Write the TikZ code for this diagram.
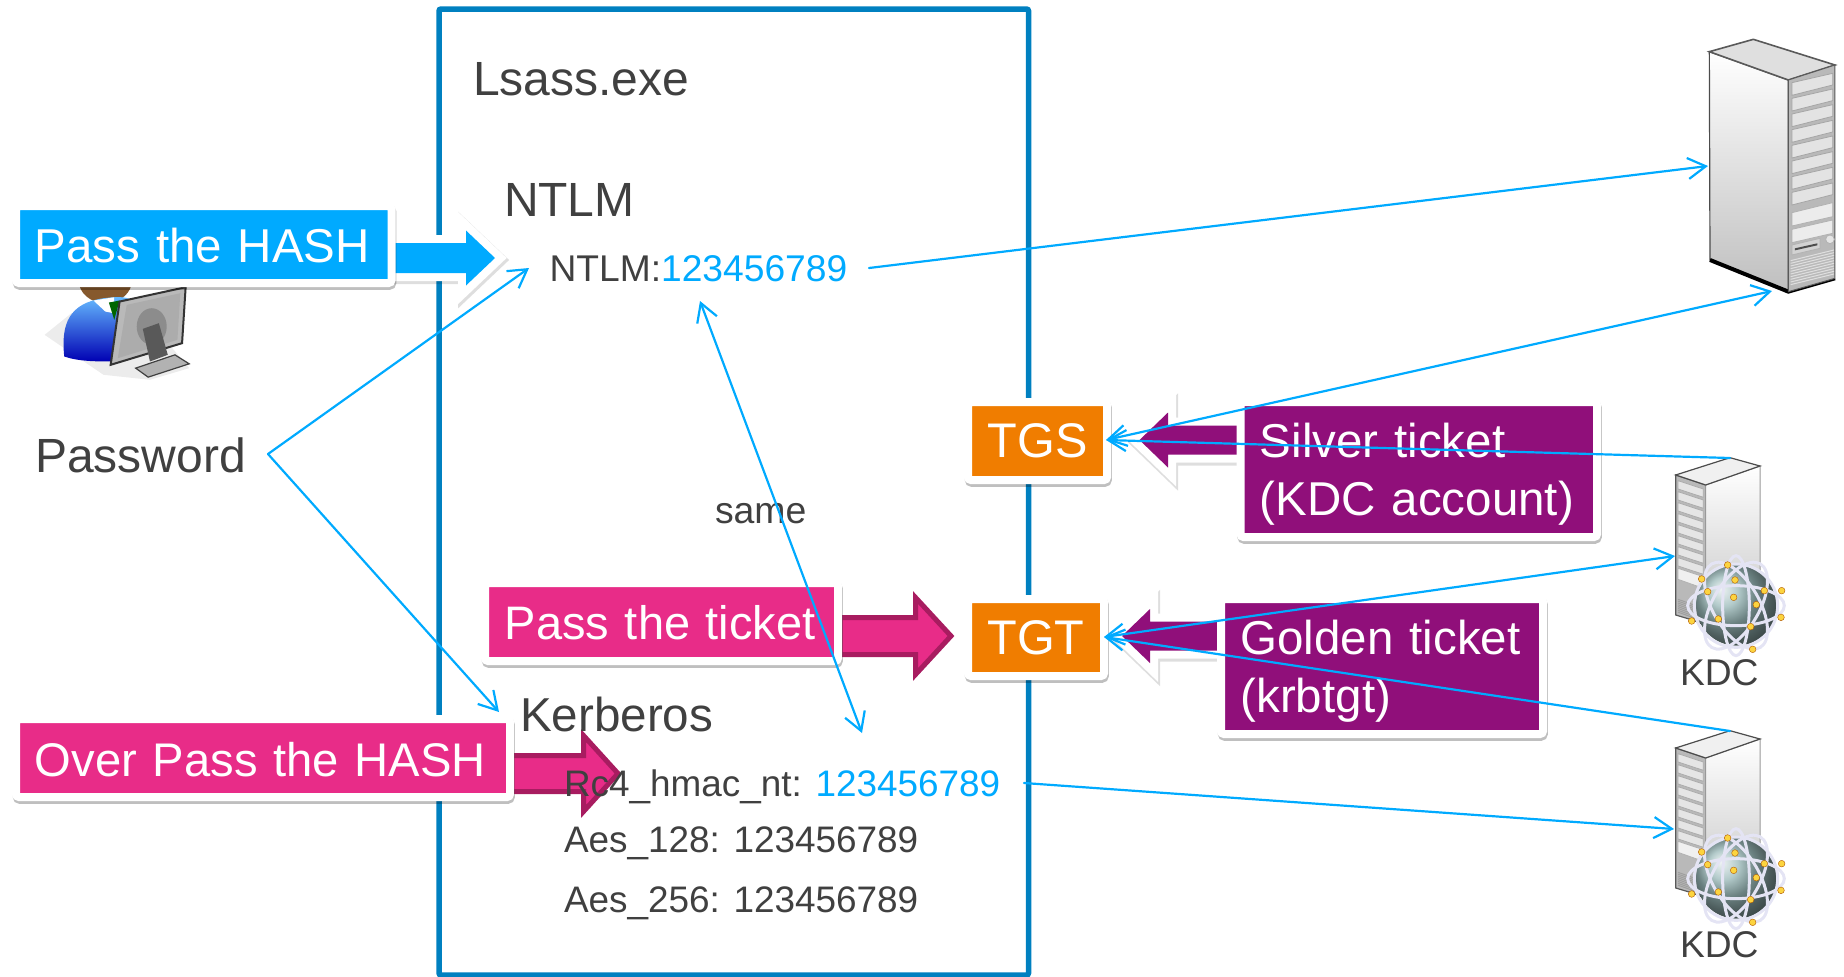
\documentclass[tikz,border=0pt]{standalone}
\usepackage{fontspec}
\setmainfont{Liberation Sans}
\usetikzlibrary{arrows.meta,shadows,calc}
\definecolor{skyb}{HTML}{00AAFF}
\definecolor{frameb}{HTML}{0080C0}
\definecolor{hotpink}{HTML}{E82C88}
\definecolor{darkpink}{HTML}{A81C60}
\definecolor{violetb}{HTML}{900F7A}
\definecolor{orangeb}{HTML}{F07D00}
\definecolor{inkgrey}{HTML}{404040}
\newcommand\fsz[1]{\fontsize{#1}{29}\selectfont}
\newcommand\arrowpath[6]{(#1,{#4-#5}) -- (#2,{#4-#5}) -- (#2,{#4-#6}) -- (#3,#4) -- (#2,{#4+#6}) -- (#2,{#4+#5}) -- (#1,{#4+#5}) -- cycle}
\newcommand\whitearrow[7]{%
  \draw[black,opacity=.13,line width=9pt,miter limit=8,shift={(1,2)}] \arrowpath{#1}{#2}{#3}{#4}{#5}{#6};
  \draw[white,line width=8pt,miter limit=8] \arrowpath{#1}{#2}{#3}{#4}{#5}{#6};
  \fill[#7] \arrowpath{#1}{#2}{#3}{#4}{#5}{#6};}
\newcommand\pinkarrow[6]{%
  \draw[darkpink,fill=hotpink,line width=2.5pt,miter limit=8] \arrowpath{#1}{#2}{#3}{#4}{#5}{#6};}
\newcommand\kdcicon{%
  \fill[black] (107,520) -- (197,558) -- (197,545) -- (107,510) -- cycle;
  \path[fill=gray!55,draw=gray!70!black,line width=.6pt] (107,105) -- (197,135) -- (197,552) -- (107,525) -- cycle;
  \path[top color=white,bottom color=gray!45,draw=gray!80,line width=.5pt] (197,135) -- (360,78) -- (360,430) -- (197,552) -- cycle;
  \path[fill=gray!12,draw=gray!60!black,line width=.6pt] (107,105) -- (270,53) -- (360,78) -- (197,135) -- cycle;
  \foreach \k in {0,...,7}{
    \path[fill=gray!20,draw=gray!65,line width=.4pt] (114,{122+33*\k}) -- (190,{147+33*\k}) -- (190,{172+33*\k}) -- (114,{147+33*\k}) -- cycle;}
  \path[fill=gray!12,draw=gray!60,line width=.4pt] (114,385) -- (190,410) -- (190,445) -- (114,418) -- cycle;
  \foreach \k in {0,...,7}{
    \draw[gray!75,line width=.5pt] (114,{478+5.5*\k}) -- (190,{505+5.5*\k});}
  \shade[ball color=teal!45!gray!55!white] (290,495) circle (122);
  \foreach \ang/\ra/\rb in {0/145/60, 60/145/70, 120/145/70, 30/125/125, 90/150/40}{
    \draw[gray!60!blue!15!white,line width=1.5pt] (288,497) ellipse [x radius=\ra, y radius=\rb, rotate=\ang];}
  \foreach \gx/\gy in {263/375,185/417,285/420,203/455,373/452,425/452,281/472,349/494,423/532,235/537,332/560,155/543,338/628}{
    \fill[yellow!60!orange!75!white,draw=orange!70!black,line width=.2pt] (\gx,\gy) circle (10);}
}
\tikzset{
  x=0.5pt,y=-0.5pt,
  tagbox/.style={draw=white,line width=4pt,rounded corners=1.5pt,outer sep=0pt,inner sep=0pt,
    text=white,align=left,
    drop shadow={draw=black,fill=black,line width=4pt,opacity=.25,shadow xshift=0.4pt,shadow yshift=-1.4pt}},
  txt/.style={anchor=base west,inner sep=0pt,outer sep=0pt,text=inkgrey},
  big/.style={txt,font=\fsz{24}},
  small/.style={txt,font=\fsz{18.5}},
  linkb/.style={draw=skyb,line width=1.1pt,line cap=round},
  tipb/.style={-{Straight Barb[length=9pt,width=10.5pt,line width=1.1pt]}},
  tipbb/.style={{Straight Barb[length=9pt,width=10.5pt,line width=1.1pt]}-{Straight Barb[length=9pt,width=10.5pt,line width=1.1pt]}},
}
\begin{document}
\begin{tikzpicture}
\useasboundingbox (0,0) rectangle (1844,976);
% process frame
\draw[frameb,line width=2.75pt,rounded corners=1pt] (439,9) rectangle (1028.5,975);

% person
\begin{scope}[shift={(0,180)},xscale=.357,yscale=.333]
  \fill[gray!15] (125,465) -- (290,585) -- (420,600) -- (530,565) -- (400,400) -- (200,400) -- cycle;
  \fill[brown!70!black] (295,300) ellipse [x radius=75, y radius=70];
  \path[top color=blue!45!cyan!60!white,bottom color=blue!70!black] (180,530) .. controls (170,430) and (195,370) .. (290,355) .. controls (330,350) and (350,350) .. (370,360) -- (320,545) .. controls (270,545) and (220,545) .. (180,530) -- cycle;
  \fill[white] (262,362) -- (320,352) -- (318,400) -- (295,395) -- cycle;
  \fill[green!40!black] (305,368) -- (335,362) -- (320,420) -- cycle;
  \path[fill=gray!55,draw=black!80,line width=1pt] (335,365) -- (520,322) -- (510,490) -- (310,555) -- cycle;
  \fill[gray!65] (355,375) -- (505,340) -- (497,480) -- (330,535) -- cycle;
  \fill[gray!50!black!60] (425,440) ellipse [x radius=42, y radius=55];
  \fill[black!65] (400,447) -- (445,430) -- (470,525) -- (420,545) -- cycle;
  \path[fill=gray!60,draw=black!75,line width=.6pt] (380,565) -- (490,525) -- (530,552) -- (415,592) -- cycle;
\end{scope}

% big server
\begin{scope}[shift={(1660,20)},scale=.3333]
  \path[top color=white,bottom color=gray!50,draw=black!70,line width=.6pt] (148,95) -- (385,180) -- (385,815) -- (150,720) -- cycle;
  \draw[black,line width=2pt] (150,720) -- (385,815) -- (525,775);
  \path[fill=gray!25,draw=black!65,line width=.8pt] (148,95) -- (280,58) -- (525,135) -- (385,180) -- cycle;
  \path[fill=gray!55,draw=gray!70!black,line width=.5pt] (385,180) -- (525,135) -- (525,775) -- (385,815) -- cycle;
  \foreach \k in {0,...,7}{
    \path[fill=gray!22,draw=gray!70,line width=.4pt] (396,{188+47*\k}) -- (518,{160+47*\k}) -- (518,{195+47*\k}) -- (396,{226+47*\k}) -- cycle;}
  \path[fill=gray!15,draw=gray!60,line width=.4pt] (396,578) -- (518,548) -- (518,590) -- (396,618) -- cycle;
  \path[fill=gray!15,draw=gray!60,line width=.4pt] (396,628) -- (518,600) -- (518,640) -- (396,668) -- cycle;
  \path[fill=gray!35,draw=gray!60,line width=.4pt] (396,675) -- (480,655) -- (480,685) -- (396,705) -- cycle;
  \fill[black!70] (405,685) -- (472,670) -- (472,676) -- (405,691) -- cycle;
  \path[fill=gray!20,draw=gray!60,line width=.4pt] (510,658) circle (13);
  \foreach \k in {0,...,9}{
    \draw[gray!25,line width=.5pt] (392,{722+8*\k}) -- (522,{690+8*\k});}
\end{scope}

% KDC icons
\begin{scope}[shift={(1640,440)},scale=.3333] \kdcicon \end{scope}
\begin{scope}[shift={(1640,713)},scale=.3333] \kdcicon \end{scope}

% block arrows
\whitearrow{390}{466}{495}{258}{15}{27.5}{skyb}
\whitearrow{1245}{1168}{1139.5}{440}{14.5}{27.5}{violetb}
\whitearrow{1225}{1150}{1122}{636}{14.5}{27}{violetb}
\pinkarrow{840}{915.5}{951}{636}{18.5}{38.5}
\pinkarrow{509}{583.5}{618}{773.5}{18}{38}

% labelled boxes
\node[tagbox,font=\fsz{23.75},fill=skyb,minimum width=187.75pt,minimum height=38.5pt,text width=187.75pt,text height=17.5pt,text depth=0pt] (hash) at (203.75,244.5) {\hspace*{9.3pt}Pass the HASH};
\node[tagbox,font=\fsz{23.5},fill=hotpink,minimum width=176.5pt,minimum height=39pt,text width=176.5pt,text height=17pt,text depth=0pt] (ticket) at (661.5,622) {\hspace*{9.9pt}Pass the ticket};
\node[tagbox,font=\fsz{23.6},fill=hotpink,minimum width=247pt,minimum height=39pt,text width=247pt,text height=18pt,text depth=0pt] (over) at (263,758) {\hspace*{9.4pt}Over Pass the HASH};
\node[tagbox,font=\fsz{24.3},fill=orangeb,minimum width=69.5pt,minimum height=39pt,align=center,text height=16pt,text depth=0pt] (tgs) at (1037.5,441) {TGS};
\node[tagbox,font=\fsz{24.3},fill=orangeb,minimum width=68pt,minimum height=38.5pt,align=center,text height=16.5pt,text depth=0pt] (tgt) at (1036,637.5) {TGT};
\node[tagbox,font=\fsz{23.75},fill=violetb,minimum width=178.25pt,minimum height=67.5pt,text width=178.25pt] (silver) at (1418.75,469.5) {\hspace*{9.65pt}\rule{0pt}{21.5pt}Silver ticket\\\hspace*{9.65pt}(KDC account)};
\node[tagbox,font=\fsz{23.75},fill=violetb,minimum width=161pt,minimum height=67.5pt,text width=161pt] (golden) at (1382,666.5) {\hspace*{9.8pt}\rule{0pt}{21.5pt}Golden ticket\\\hspace*{9.8pt}(krbtgt)};

% plain texts
\node[big] (lsass) at (473,95) {Lsass.exe};
\node[big] (ntlmtitle) at (504,216) {NTLM};
\node[small,font=\fsz{18.6}] (ntlmval) at (549.5,281) {NTLM:\textcolor{skyb}{123456789}};
\node[big] (password) at (35,472) {Password};
\node[small,font=\fsz{18.7}] (same) at (715,523) {same};
\node[big,font=\fsz{23.8}] (kerberos) at (520,731) {Kerberos};
\node[small,font=\fsz{18.45}] (rc4) at (564,796) {Rc4\_hmac\_nt: \textcolor{skyb}{123456789}};
\node[small,font=\fsz{18.45}] (aes128) at (564,852) {Aes\_128: 123456789};
\node[small,font=\fsz{18.45}] (aes256) at (564,912) {Aes\_256: 123456789};
\node[txt,font=\fsz{18.6}] (kdc1) at (1680,685) {KDC};
\node[txt,font=\fsz{18.6}] (kdc2) at (1680,957) {KDC};

% connector ends
\coordinate (pw) at (268,454);
\coordinate (ntlmin) at (529,268);
\coordinate (krbin) at (499,712);
\coordinate (ntlmout) at (869,268);
\coordinate (srvleft) at (1708,166);
\coordinate (srvbase) at (1772,291);
\coordinate (tgsin) at (1106,440);
\coordinate (tgtin) at (1104,637);
\coordinate (kdc1top) at (1730,458);
\coordinate (kdc1left) at (1675,556);
\coordinate (kdc2top) at (1730,731);
\coordinate (kdc2left) at (1674,829);
\coordinate (rc4out) at (1024,783);
\coordinate (sameA) at (700,301);
\coordinate (sameB) at (862,733);

% connectors
\draw[linkb,tipb] (pw) -- (ntlmin);
\draw[linkb,tipb] (pw) -- (krbin);
\draw[linkb,tipb] (ntlmout) -- (srvleft);
\draw[linkb,tipbb] (tgsin) -- (srvbase);
\draw[linkb,tipb] (kdc1top) -- (tgsin);
\draw[linkb,tipbb] (tgtin) -- (kdc1left);
\draw[linkb,tipb] (kdc2top) -- (tgtin);
\draw[linkb,tipb] (rc4out) -- (kdc2left);
\draw[linkb,tipbb] (sameA) -- (sameB);
\end{tikzpicture}
\end{document}
